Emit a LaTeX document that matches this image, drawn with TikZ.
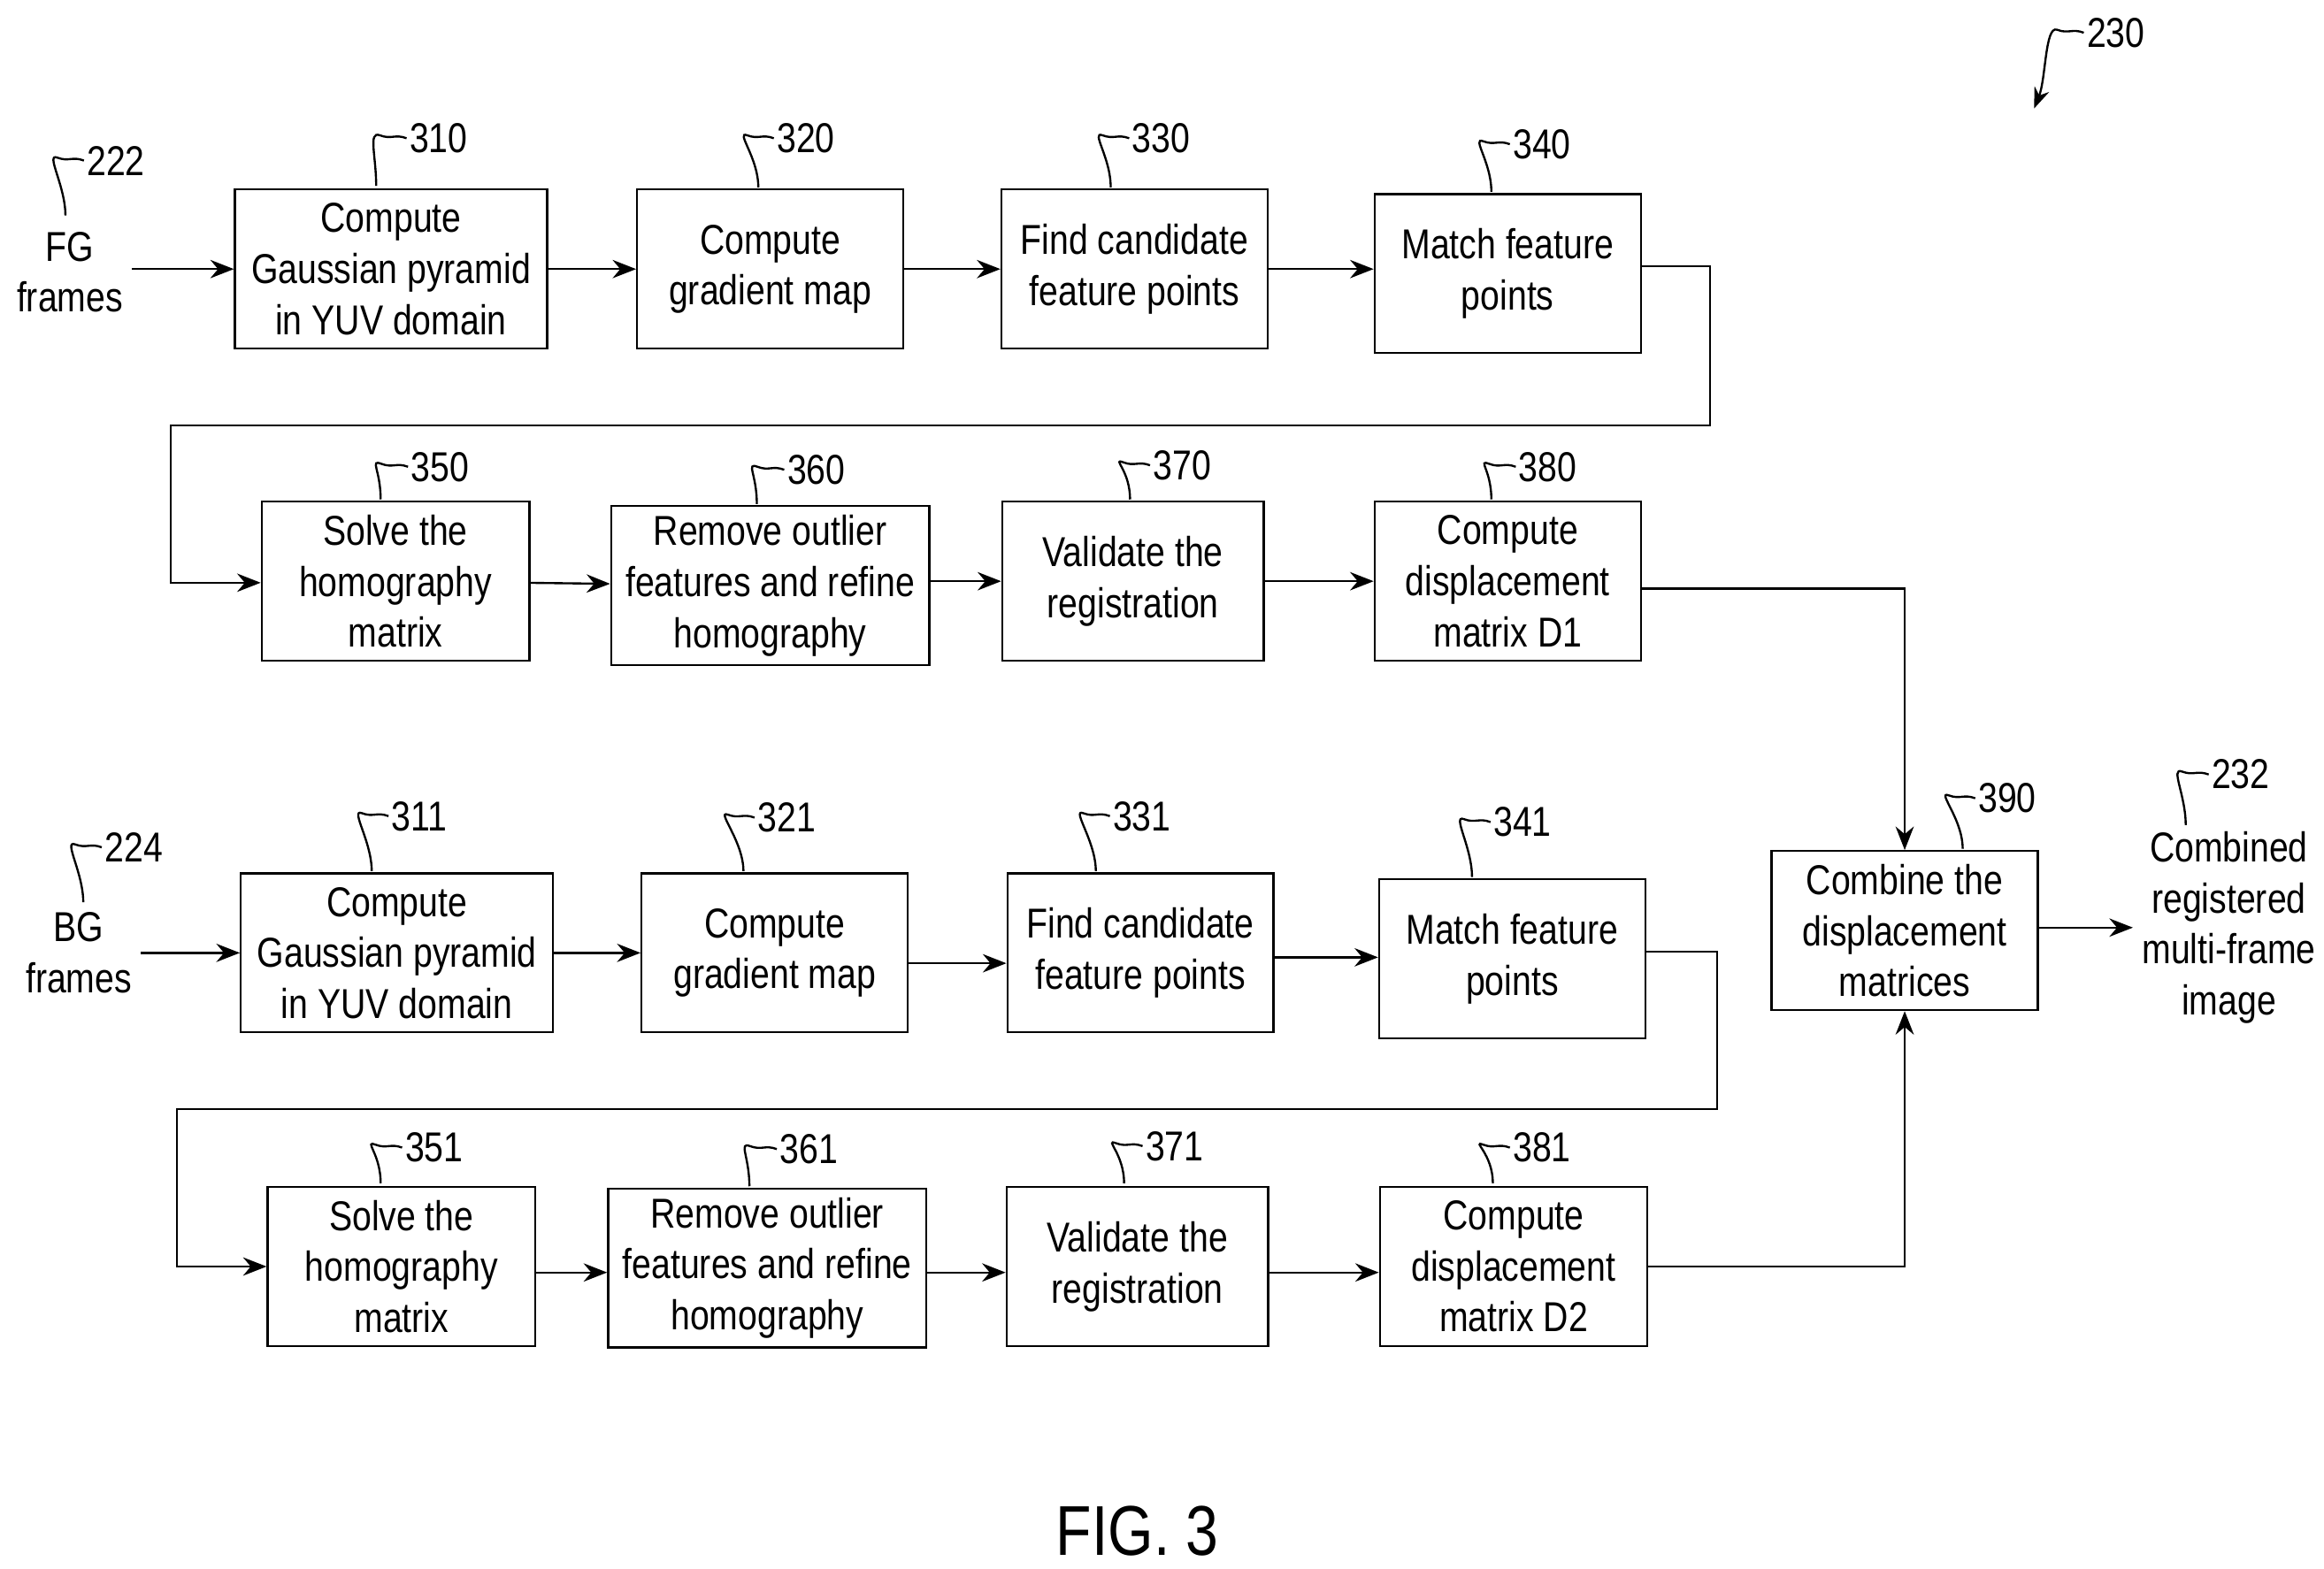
\documentclass[tikz,border=0pt]{standalone}
\usepackage{fontspec}
\setmainfont{Liberation Sans}[FakeStretch=0.83]
\usetikzlibrary{arrows.meta,calc}
\tikzset{
  blk/.style={rectangle, draw, thick, align=center, minimum height=2.14cm,
    inner xsep=2pt, font=\fontsize{16}{19.5}\selectfont},
  txt/.style={align=center, font=\fontsize{16}{19.5}\selectfont},
  num/.style={font=\fontsize{16}{19.5}\selectfont, inner sep=1pt},
  flow/.style={-{Stealth[length=9pt,width=7pt]}, thick},
}
% reference number with wavy leader down to a box top
\newcommand{\numlbl}[5]{%
  \node[num] (n#1) at (#2,#3) {#1};
  \draw[thick] (n#1.west) .. controls +(-8,-3) and +(8,3) .. ++(-18,-2)
    .. controls +(-8,-3) and (#4,#5-20) .. (#4,#5);}
\begin{document}
\begin{tikzpicture}[x=0.02cm,y=-0.02cm]
  \useasboundingbox (0,0) rectangle (1563,1055);

  % first row (FG)
  \node[txt] (fg) at (47,183) {FG\\frames};
  \node[blk, minimum width=4.2cm] (b310) at (263,181) {Compute\\Gaussian pyramid\\in YUV domain};
  \node[blk, minimum width=3.58cm] (b320) at (518,181) {Compute\\gradient map};
  \node[blk, minimum width=3.58cm] (b330) at (763,181) {Find candidate\\feature points};
  \node[blk, minimum width=3.58cm] (b340) at (1014,184) {Match feature\\points};
  \node[blk, minimum width=3.6cm] (b350) at (266,391) {Solve the\\homography\\matrix};
  \node[blk, minimum width=4.28cm] (b360) at (518,394) {Remove outlier\\features and refine\\homography};
  \node[blk, minimum width=3.52cm] (b370) at (762,391) {Validate the\\registration};
  \node[blk, minimum width=3.58cm] (b380) at (1014,391) {Compute\\displacement\\matrix D1};

  % second row (BG)
  \node[txt] (bg) at (53,641) {BG\\frames};
  \node[blk, minimum width=4.2cm] (b311) at (267,641) {Compute\\Gaussian pyramid\\in YUV domain};
  \node[blk, minimum width=3.58cm] (b321) at (521,641) {Compute\\gradient map};
  \node[blk, minimum width=3.58cm] (b331) at (767,641) {Find candidate\\feature points};
  \node[blk, minimum width=3.58cm] (b341) at (1017,645) {Match feature\\points};
  \node[blk, minimum width=3.6cm] (b351) at (270,852) {Solve the\\homography\\matrix};
  \node[blk, minimum width=4.28cm] (b361) at (516,853) {Remove outlier\\features and refine\\homography};
  \node[blk, minimum width=3.52cm] (b371) at (765,852) {Validate the\\registration};
  \node[blk, minimum width=3.6cm] (b381) at (1018,852) {Compute\\displacement\\matrix D2};

  \node[blk, minimum width=3.58cm] (b390) at (1281,626) {Combine the\\displacement\\matrices};
  \node[txt] (out) at (1499,624) {Combined\\registered\\multi-frame\\image};

  \node[font=\fontsize{27}{32}\selectfont] (fig) at (765,1030) {FIG. 3};

  % connectors
  \draw[flow] (fg.east |- b310) -- (b310);
  \draw[flow] (b310) -- (b320);
  \draw[flow] (b320) -- (b330);
  \draw[flow] (b330) -- (b330 -| b340.west);
  \draw[flow] (b340.east |- 0,179) -| (1150,286) -| (115,392) -- (b350.west |- 0,392);
  \draw[flow] (b350) -- (b360);
  \draw[flow] (b360.east |- b370) -- (b370);
  \draw[flow] (b370) -- (b380);
  \draw[flow] (b380.east |- 0,396) -| (b390.north);

  \draw[flow] (bg.east |- b311) -- (b311);
  \draw[flow] (b311) -- (b321);
  \draw[flow] (b321.east |- 0,648) -- (b331.west |- 0,648);
  \draw[flow] (b331.east |- 0,644) -- (b341.west |- 0,644);
  \draw[flow] (b341.east |- 0,640) -| (1155,746) -| (119,852) -- (b351.west |- 0,852);
  \draw[flow] (b351.east |- 0,856) -- (b361.west |- 0,856);
  \draw[flow] (b361.east |- 0,856) -- (b371.west |- 0,856);
  \draw[flow] (b371.east |- 0,856) -- (b381.west |- 0,856);
  \draw[flow] (b381) -| (b390.south);
  \draw[flow] (b390.east |- 0,624) -- (out.west |- 0,624);

  % reference numbers
  \numlbl{310}{295}{93}{253}{125}
  \numlbl{320}{542}{93}{510}{126}
  \numlbl{330}{781}{93}{747}{126}
  \numlbl{340}{1037}{97}{1003}{129}
  \numlbl{350}{296}{314}{256}{336}
  \numlbl{360}{549}{316}{509}{339}
  \numlbl{370}{795}{313}{760}{336}
  \numlbl{380}{1041}{314}{1003}{336}
  \numlbl{311}{282}{549}{250}{586}
  \numlbl{321}{529}{550}{500}{586}
  \numlbl{331}{768}{549}{737}{586}
  \numlbl{341}{1024}{553}{990}{590}
  \numlbl{351}{292}{772}{256}{796}
  \numlbl{361}{544}{773}{504}{798}
  \numlbl{371}{790}{771}{756}{796}
  \numlbl{381}{1037}{772}{1004}{796}
  \numlbl{390}{1350}{537}{1320}{571}
  \numlbl{222}{78}{108}{44}{145}
  \numlbl{224}{90}{570}{56}{607}
  \numlbl{232}{1507}{521}{1470}{555}
  \node[num] (n230) at (1423,22) {230};
  \coordinate (t230) at (1368,73);
  \draw[thick,-{Stealth[length=8pt,width=6pt]}] (n230.west) .. controls +(-8,-3) and +(8,3) .. ++(-18,-2)
    .. controls +(-8,-3) and +(8,-20) .. (t230);
\end{tikzpicture}
\end{document}
